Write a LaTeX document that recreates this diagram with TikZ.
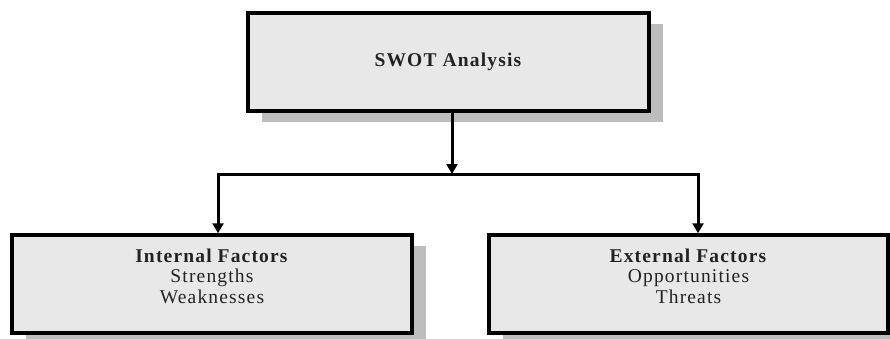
\documentclass[tikz,border=0pt]{standalone}
\usepackage{fontspec}
\setmainfont{Liberation Serif}[LetterSpace=6]
\usetikzlibrary{arrows.meta,shadows}
\begin{document}
\begin{tikzpicture}[x=1pt,y=-1pt,
  box/.style={draw=black, line width=3.5pt, fill=boxgray, minimum height=98pt, inner sep=0pt,
    drop shadow={shadow xshift=14pt, shadow yshift=-11pt, fill=shadowgray, opacity=1}},
  lbl/.style={align=center, font=\fontsize{19.5}{20.5}\selectfont, text=textgray, inner sep=0pt},
  conn/.style={line width=3pt, line join=miter},
  tip/.style={-{Triangle[width=11pt,length=10pt]}}
]
\definecolor{boxgray}{HTML}{E8E8E8}
\definecolor{shadowgray}{HTML}{BDBDBD}
\definecolor{textgray}{HTML}{222222}
\useasboundingbox (0,0) rectangle (890,339);
\node[box, minimum width=401pt] (top) at (448.5,62) {};
\node[lbl] (toptext) at (top.center) {\textbf{SWOT Analysis}};
\node[box, minimum width=400pt] (l) at (212,284) {};
\node[lbl] (ltext) at ([yshift=8pt]l.center) {\textbf{Internal Factors}\\Strengths\\Weaknesses};
\node[box, minimum width=399pt] (r) at (688.5,284) {};
\node[lbl] (rtext) at ([yshift=8pt]r.center) {\textbf{External Factors}\\Opportunities\\Threats};
\coordinate (j) at (452,174);
\coordinate (jl) at (218,174);
\coordinate (jr) at (698,174);
\draw[conn, tip] (top.south -| j) -- (j);
\draw[conn, {Triangle[width=11pt,length=10pt]}-{Triangle[width=11pt,length=10pt]}] (jl |- l.north) -- (jl) -- (jr) -- (jr |- r.north);
\end{tikzpicture}
\end{document}
